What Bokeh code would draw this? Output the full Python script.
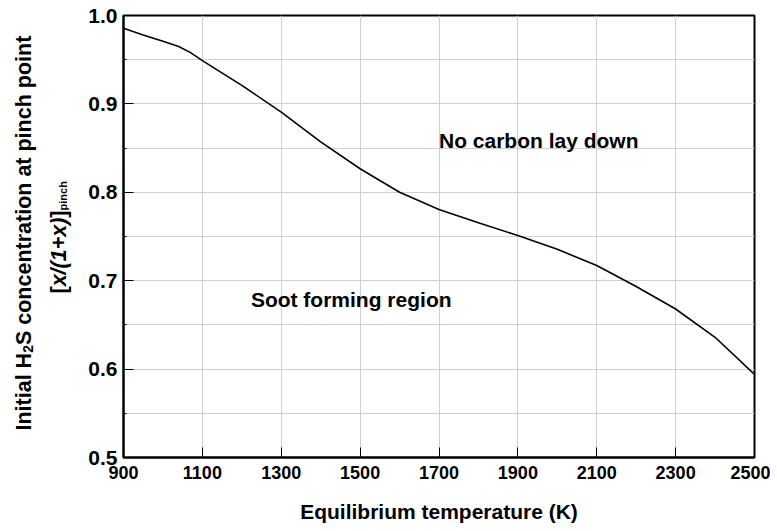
import math
from bokeh.plotting import figure
from bokeh.layouts import row
from bokeh.models import Range1d, FixedTicker, PrintfTickFormatter, Label
from bokeh.core.properties import value
from bokeh.embed import file_html
from bokeh.resources import INLINE

# ---- data ----
temperature = [900, 950, 1000, 1040, 1070, 1100, 1200, 1300, 1400, 1500, 1600,
               1700, 1800, 1900, 2000, 2100, 2200, 2300, 2400, 2500]
concentration = [0.9856, 0.978, 0.9708, 0.965, 0.958, 0.949, 0.921, 0.8906, 0.857,
                 0.8266, 0.800, 0.7805, 0.7655, 0.7511, 0.7355, 0.7172, 0.6934,
                 0.668, 0.636, 0.594]
x_ticks = [900, 1100, 1300, 1500, 1700, 1900, 2100, 2300, 2500]
y_ticks = [0.5, 0.6, 0.7, 0.8, 0.9, 1.0]
y_minor = [0.55, 0.65, 0.75, 0.85, 0.95]
region_labels = ["No carbon lay down", "Soot forming region"]
region_x = [1700, 1223]
region_y = [0.8586, 0.6784]

FONT = "Liberation Sans"
GRID = "#cfcfcf"

W, H = 770, 531
LW = 80                      # width of the y-title strip
BL, BT, BR, BB = 123 - LW, 15, 16, 74
FH = H - BT - BB
X0, X1, Y0, Y1 = 900, 2500, 0.5, 1.0

p = figure(width=W - LW, height=H, output_backend="svg", toolbar_location=None,
           x_range=Range1d(X0, X1), y_range=Range1d(Y0, Y1),
           min_border_left=BL, min_border_right=BR, min_border_top=BT,
           min_border_bottom=BB)
p.background_fill_color = "white"
p.border_fill_color = "white"
p.outline_line_color = "black"
p.outline_line_width = 2

p.line(temperature, concentration, line_color="black", line_width=1.6)

# axes
p.xaxis.ticker = FixedTicker(ticks=x_ticks)
p.yaxis.ticker = FixedTicker(ticks=y_ticks, minor_ticks=y_minor)
p.yaxis.formatter = PrintfTickFormatter(format="%.1f")
p.xaxis.formatter = PrintfTickFormatter(format="%d")

for ax in (p.xaxis[0], p.yaxis[0]):
    ax.axis_line_color = "black"
    ax.axis_line_width = 2
    ax.major_tick_in = 10
    ax.major_tick_out = 0
    ax.major_tick_line_color = "black"
    ax.major_tick_line_width = 1
    ax.minor_tick_in = 3
    ax.minor_tick_out = 0
    ax.minor_tick_line_color = "black"
    ax.major_label_text_font = FONT
    ax.major_label_text_font_style = "bold"
    ax.major_label_text_color = "black"
p.xaxis.minor_tick_line_color = None
p.xaxis.major_label_text_font_size = "18px"
p.yaxis.major_label_text_font_size = "21px"
p.xaxis.major_label_standoff = 8
p.yaxis.major_label_standoff = 6

p.xaxis.axis_label = "Equilibrium temperature (K)"
p.xaxis.axis_label_text_font = FONT
p.xaxis.axis_label_text_font_style = "bold"
p.xaxis.axis_label_text_font_size = "21px"
p.xaxis.axis_label_text_color = "black"
p.xaxis.axis_label_standoff = 18

# grid
p.xgrid.ticker = FixedTicker(ticks=x_ticks)
p.ygrid.ticker = FixedTicker(ticks=y_ticks, minor_ticks=y_minor)
p.xgrid.grid_line_color = GRID
p.ygrid.grid_line_color = GRID
p.ygrid.minor_grid_line_color = GRID
p.xgrid.grid_line_width = 1
p.ygrid.grid_line_width = 1

# region annotations
for txt, x, y in zip(region_labels, region_x, region_y):
    p.add_layout(Label(x=x, y=y, text=txt, text_font=FONT, text_font_style="bold",
                       text_font_size="21px", text_color="black",
                       text_align="left", text_baseline="alphabetic"))

# ---- y-axis title strip (shares the y range, so its frame lines up) ----
t = figure(width=LW, height=H, output_backend="svg", toolbar_location=None,
           x_range=Range1d(0, LW), y_range=p.y_range,
           x_axis_type=None, y_axis_type=None, min_border=0,
           min_border_top=BT, min_border_bottom=BB)
t.outline_line_color = None
t.grid.visible = False
t.background_fill_color = "white"
t.border_fill_color = "white"

def dy(py):
    # page pixel row -> data y (same frame as the main plot)
    return Y0 + (BT + FH - py) * (Y1 - Y0) / FH

ANG = math.pi / 2
S1, S1s = 21.5, 14.0
S2, S2s = 21.5, 11.0

def em(s, size):
    return s * size / 1000.0

def piece(px, py, text, size, style="bold"):
    t.text(x=[px], y=[dy(py)], text=[text], angle=ANG,
           text_font=value(FONT), text_font_style=value(style),
           text_font_size=value(f"{size}px"), text_color="black",
           text_align="left", text_baseline="alphabetic")

# line 1: Initial H2S concentration at pinch point
bx1, by1 = 23.5, 430
w_a = em(3612, S1)
w_b = em(556, S1s)
piece(bx1, by1, "Initial H", S1)
piece(bx1 + 4, by1 - w_a, "2", S1s)
piece(bx1, by1 - w_a - w_b, "S concentration at pinch point", S1)

# line 2: [x/(1+x)]_pinch
bx2, by2 = 58.5, 293
w1 = em(333, S2)
w2 = em(3196, S2)
piece(bx2, by2, "[", S2)
piece(bx2, by2 - w1, "x/(1+x)", S2, style="bold italic")
piece(bx2, by2 - w1 - w2, "]", S2)
piece(bx2 + 4, by2 - 2 * w1 - w2, "pinch", S2s)

layout = row(t, p, spacing=0)
open("out.html", "w").write(file_html(layout, INLINE))
